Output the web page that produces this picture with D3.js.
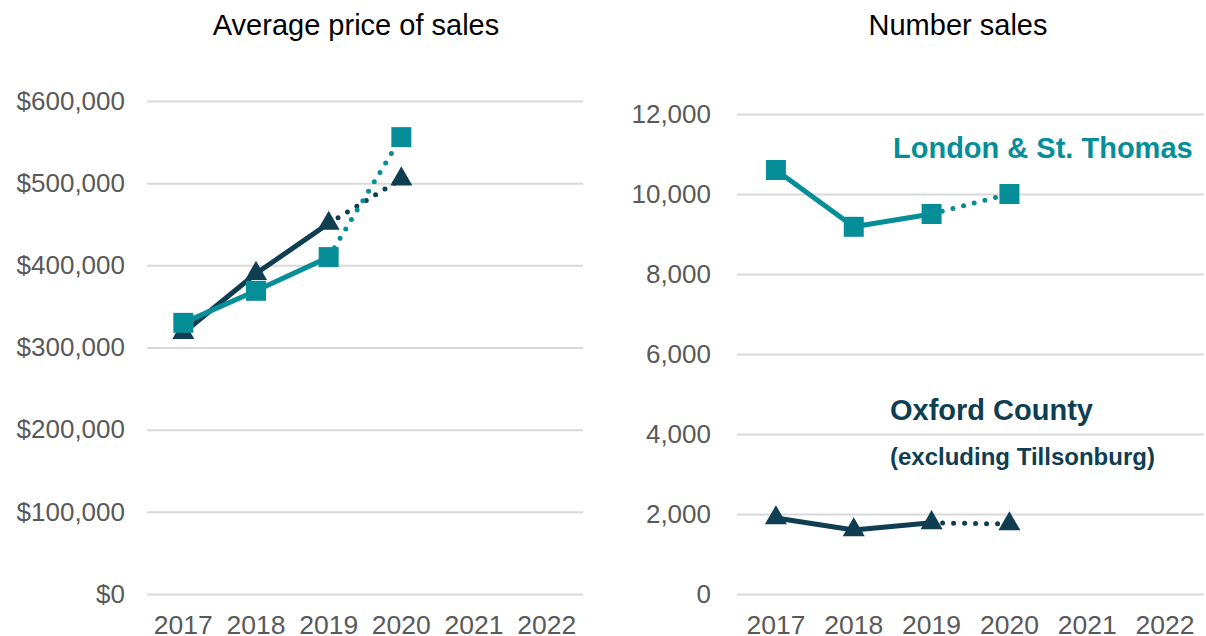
<!DOCTYPE html>
<html>
<head>
<meta charset="utf-8">
<script src="https://cdn.jsdelivr.net/npm/d3@7"></script>
<style>
  body { margin: 0; background: #fff; }
  svg text { font-family: "Liberation Sans", Arial, sans-serif; }
</style>
</head>
<body>
<div class="chart"></div>
<script>
// data
let years = ["2017", "2018", "2019", "2020", "2021", "2022"];
let priceLondon = [330000, 369000, 410000, 556000];
let priceOxford = [318000, 390000, 451000, 505000];
let salesLondon = [10600, 9180, 9500, 10000];
let salesOxford = [1900, 1600, 1780, 1750];
let priceTicks = [0, 100000, 200000, 300000, 400000, 500000, 600000];
let salesTicks = [0, 2000, 4000, 6000, 8000, 10000, 12000];

let teal = "#068e98";
let dark = "#0f3e53";

let svg = d3.select(".chart")
  .append("svg")
  .attr("width", 1206)
  .attr("height", 636);

function panel(opts) {
  let x = d3.scaleBand().domain(years).range([opts.x0, opts.x1]);
  let y = d3.scaleLinear().domain([0, opts.max]).range([594, opts.yTop]);
  let g = svg.append("g");

  g.append("text")
    .attr("x", opts.titleX)
    .attr("y", 35)
    .attr("text-anchor", "middle")
    .attr("font-size", 29)
    .attr("fill", "#000")
    .text(opts.title);

  // gridlines
  let yAxis = d3.axisLeft(y)
    .tickValues(opts.ticks)
    .tickSize(-(opts.x1 - opts.x0))
    .tickPadding(opts.x0 - opts.labelEnd)
    .tickFormat(opts.fmt);
  let ga = g.append("g")
    .attr("transform", `translate(${opts.x0},0)`)
    .call(yAxis);
  ga.select(".domain").remove();
  ga.selectAll(".tick line").attr("stroke", "#d9d9d9").attr("stroke-width", 2);
  ga.selectAll(".tick text")
    .attr("font-size", 26)
    .attr("fill", "#595959")
    .attr("font-family", "Liberation Sans, Arial, sans-serif");

  let xAxis = d3.axisBottom(x).tickSize(0).tickPadding(21);
  let gx = g.append("g")
    .attr("transform", "translate(0,594)")
    .call(xAxis);
  gx.select(".domain").remove();
  gx.selectAll(".tick text")
    .attr("font-size", 26.5)
    .attr("fill", "#595959")
    .attr("font-family", "Liberation Sans, Arial, sans-serif");

  let cx = d => x(d) + x.bandwidth() / 2;

  function series(vals, color, shape) {
    let pts = vals.map((v, i) => [cx(years[i]), y(v)]);
    let line = d3.line();
    g.append("path")
      .attr("d", line(pts.slice(0, 3)))
      .attr("fill", "none")
      .attr("stroke", color)
      .attr("stroke-width", 5)
      .attr("stroke-linejoin", "round");
    g.append("path")
      .attr("d", line(pts.slice(2, 4)))
      .attr("fill", "none")
      .attr("stroke", color)
      .attr("stroke-width", 5)
      .attr("stroke-linecap", "round")
      .attr("stroke-dasharray", "0 11");
    g.selectAll(null)
      .data(pts)
      .enter()
      .append("path")
      .attr("transform", d => `translate(${d[0]},${d[1]})`)
      .attr("d", shape === "square"
        ? d3.symbol(d3.symbolSquare, 400)()
        : d3.symbol(d3.symbolTriangle, 210)())
      .attr("fill", color);
  }

  series(opts.oxford, dark, "triangle");
  series(opts.london, teal, "square");
  return g;
}

panel({
  x0: 147, x1: 583, yTop: 101, max: 600000, labelEnd: 125,
  titleX: 356, title: "Average price of sales",
  ticks: priceTicks, fmt: d => "$" + d3.format(",")(d),
  london: priceLondon, oxford: priceOxford
});

let right = panel({
  x0: 737, x1: 1204, yTop: 114, max: 12000, labelEnd: 711,
  titleX: 958, title: "Number sales",
  ticks: salesTicks, fmt: d3.format(","),
  london: salesLondon, oxford: salesOxford
});

right.append("text")
  .attr("x", 893).attr("y", 158)
  .attr("font-size", 29).attr("font-weight", "bold")
  .attr("fill", teal)
  .text("London & St. Thomas");
right.append("text")
  .attr("x", 890).attr("y", 420)
  .attr("font-size", 29).attr("font-weight", "bold")
  .attr("fill", dark)
  .text("Oxford County");
right.append("text")
  .attr("x", 890).attr("y", 465)
  .attr("font-size", 24).attr("font-weight", "bold")
  .attr("fill", dark)
  .text("(excluding Tillsonburg)");
</script>
</body>
</html>
